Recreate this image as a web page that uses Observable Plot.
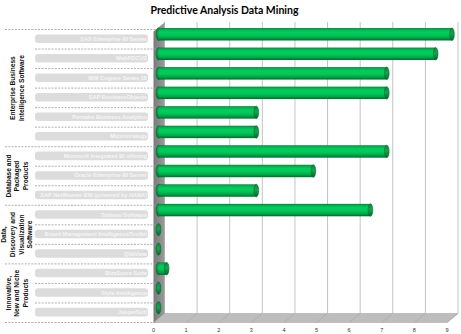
<!DOCTYPE html>
<html><head><meta charset="utf-8">
<script src="https://cdn.jsdelivr.net/npm/d3@7"></script>
<script src="https://cdn.jsdelivr.net/npm/@observablehq/plot@0.6"></script>
<style>
html,body{margin:0;padding:0;background:#fff;}
#title{width:461px;height:20px;box-sizing:border-box;padding-right:12px;padding-top:2px;text-align:center;font:bold 10.5px Lato, sans-serif;line-height:16px;color:#000;}
#chart svg{display:block;}
</style></head><body>
<div id="title">Predictive Analysis Data Mining</div>
<div id="chart"></div>
<script>
const categories = [
  "SAS Enterprise BI Server",
  "WebFOCUS",
  "IBM Cognos Series 10",
  "SAP BusinessObjects",
  "Pentaho Business Analytics",
  "Microstrategy",
  "Microsoft Integrated BI offering",
  "Oracle Enterprise BI Server",
  "SAP NetWeaver BW (powered by HANA)",
  "Tableau Software",
  "Board Management IntelligenceToolkit",
  "QlikView",
  "BizzScore Suite",
  "Style Intelligence",
  "JasperSoft"
];
const values = [9, 8.5, 7, 7, 3, 3, 7, 4.75, 3, 6.5, 0, 0, 0.25, 0, 0];
const groupLabels = [
  "Enterprise Business\nIntelligence Software",
  "Database and\nPackaged\nProducts",
  "Data,\nDiscovery and\nVisualization\nSoftware",
  "Innovative,\nNew and Niche\nProducts"
];
const groupSizes = [6, 3, 3, 3];
const xTicks = [0, 1, 2, 3, 4, 5, 6, 7, 8, 9];

// layout
const W = 461, H = 314, mL = 153, mR = 14.5, mT = 9, mB = 12;
const xMax = d3.max(xTicks);
const unitX = (W - mL - mR) / xMax;
const unitY = (H - mT - mB) / categories.length;
const depthX = 11, depthY = 9;
const labelLeft = 35, labelRight = 148, groupLineLeft = 5, groupTextX = 16;
const px = p => p / unitX;
const py = p => p / unitY;

const rows = categories.map((name, i) => ({name, value: values[i], i}));
const yTop = -0.5, yBottom = categories.length - 0.5;
const boundaries = d3.range(categories.length + 1).map(k => k - 0.5);
const groupEdges = [yTop, ...Array.from(d3.cumsum(groupSizes), s => s - 0.5)];
const groups = groupLabels.map((label, g) => ({label, y: (groupEdges[g] + groupEdges[g + 1]) / 2}));
const innerBoundaries = boundaries.filter(b => !groupEdges.includes(b));

const wallTop = yTop + 0.1;
const wall = [
  {x: 0, y: wallTop},
  {x: px(depthX), y: wallTop - py(depthY)},
  {x: px(depthX), y: yBottom - py(depthY)},
  {x: 0, y: yBottom}
];
const floor = [
  {x: 0, y: yBottom},
  {x: xMax, y: yBottom},
  {x: xMax + px(depthX), y: yBottom - py(depthY)},
  {x: px(depthX), y: yBottom - py(depthY)}
];

const barInset = 3.55;
const capHalf = 2.3;

const svg = Plot.plot({
  width: W, height: H,
  marginLeft: mL, marginRight: mR, marginTop: mT, marginBottom: mB,
  style: {fontFamily: "'Liberation Sans', Arial, sans-serif", background: "white", overflow: "visible"},
  x: {domain: [0, xMax], axis: null},
  y: {domain: [yTop, yBottom], reverse: true, axis: null},
  marks: [
    // back wall gridlines
    Plot.ruleX(xTicks, {x: d => d, y1: wallTop, y2: yBottom, dx: depthX, dy: -depthY, stroke: "#c4c4c4", strokeWidth: 1}),
    // floor
    Plot.line(floor, {x: "x", y: "y", fill: "#bdbdbd", stroke: "#a9a9a9", strokeWidth: 0.6}),
    Plot.link(xTicks, {x1: d => d, y1: yBottom, x2: d => d + px(depthX), y2: yBottom - py(depthY), stroke: "#a4a4a4", strokeWidth: 0.6}),
    // left wall
    Plot.line(wall, {x: "x", y: "y", fill: "url(#wallgrad)", stroke: "none"}),
    // dashed separators
    Plot.ruleY(innerBoundaries, {y: d => d, x1: px(labelLeft - mL), x2: px(4), stroke: "#9a9a9a", strokeWidth: 0.8, strokeDasharray: "2,1.3"}),
    Plot.ruleY(groupEdges, {y: d => d, x1: px(groupLineLeft - mL), x2: px(4), stroke: "#9a9a9a", strokeWidth: 0.8, strokeDasharray: "2,1.3"}),
    // label boxes
    Plot.rect(rows, {x1: 0, x2: 0, y1: d => d.i - 0.5, y2: d => d.i + 0.5,
      insetLeft: -(mL - labelLeft), insetRight: mL - labelRight, insetTop: 5.4, insetBottom: 5.6, rx: 3,
      fill: "#dcdcdc"}),
    Plot.text(rows, {x: 0, y: "i", text: "name", dx: -(mL - labelRight) - 1.5, dy: -0.3, textAnchor: "end",
      fontSize: 5.6, fontWeight: "bold", fill: "#f6f6f6"}),
    // group labels
    Plot.text(groups, {x: 0, y: "y", text: "label", dx: groupTextX - mL, rotate: -90, fontSize: 6.6,
      fontWeight: "bold", fill: "#111", lineHeight: 1.3}),
    // bars: left caps, bodies, right caps
    Plot.rect(rows, {x1: 0, x2: 0, y1: d => d.i - 0.5, y2: d => d.i + 0.5, insetTop: barInset, insetBottom: barInset,
      insetLeft: -capHalf, insetRight: -capHalf, rx: capHalf, ry: 6.2, dx: depthX / 2, dy: -depthY / 2,
      fill: "url(#capgrad)", stroke: "#05602a", strokeWidth: 0.6}),
    Plot.rect(rows, {x1: 0, x2: "value", y1: d => d.i - 0.5, y2: d => d.i + 0.5, insetTop: barInset, insetBottom: barInset,
      dx: depthX / 2, dy: -depthY / 2, fill: "url(#cyl)"}),
    Plot.rect(rows.filter(d => d.value > 0), {x1: "value", x2: "value", y1: d => d.i - 0.5, y2: d => d.i + 0.5, insetTop: barInset, insetBottom: barInset,
      insetLeft: -capHalf, insetRight: -capHalf, rx: capHalf, ry: 6.2, dx: depthX / 2, dy: -depthY / 2,
      fill: "url(#capgrad)", stroke: "#05602a", strokeWidth: 0.6}),
    // x tick labels
    Plot.text(xTicks, {x: d => d, y: yBottom, dy: 8, text: d => String(d), fontSize: 5.6, fill: "#333"})
  ]
});

const defs = d3.select(svg).insert("defs", ":first-child");
const cyl = defs.append("linearGradient").attr("id", "cyl").attr("x1", 0).attr("y1", 0).attr("x2", 0).attr("y2", 1);
[[0, "#0a7a37"], [0.1, "#00ad4b"], [0.3, "#00cd5c"], [0.55, "#00c958"], [0.8, "#00a447"], [1, "#006a2c"]]
  .forEach(([o, c]) => cyl.append("stop").attr("offset", o).attr("stop-color", c));
const cap = defs.append("linearGradient").attr("id", "capgrad").attr("x1", 0).attr("y1", 0).attr("x2", 0).attr("y2", 1);
[[0, "#0b8a3f"], [0.45, "#0aa84c"], [1, "#056a2e"]]
  .forEach(([o, c]) => cap.append("stop").attr("offset", o).attr("stop-color", c));
const wg = defs.append("linearGradient").attr("id", "wallgrad").attr("x1", 0).attr("y1", 0).attr("x2", 1).attr("y2", 0);
[[0, "#7a7a7a"], [1, "#9a9a9a"]]
  .forEach(([o, c]) => wg.append("stop").attr("offset", o).attr("stop-color", c));

document.getElementById("chart").appendChild(svg);
</script>
</body></html>
